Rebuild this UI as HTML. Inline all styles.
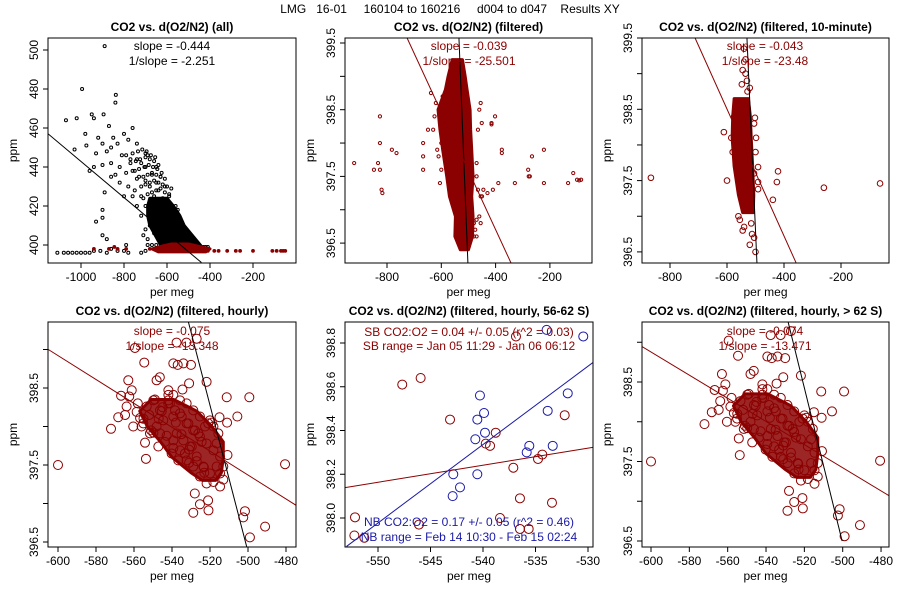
<!DOCTYPE html>
<html><head><meta charset="utf-8">
<style>
html,body{margin:0;padding:0;background:#fff}
svg{display:block;font-family:"Liberation Sans",sans-serif}
</style></head>
<body>
<svg id="chart" width="900" height="600" viewBox="0 0 900 600">
<text x="450" y="13" text-anchor="middle" font-size="12" xml:space="preserve">LMG   16-01     160104 to 160216     d004 to d047    Results XY</text>
</svg>
<script>
// ---------- Panel 1 (all) ----------
const p1BlackX = [-890,-995,-838,-840,-1070,-1020,-950,-895,-940,-980,-870,-760,-850,-800,-920,-975,-900,-860,-830,-780,-740,-1030,-930,-880,-810,-770,-700,-690,-650,-940,-900,-860,-820,-790,-760,-730,-700,-680,-960,-890,-900,-900,-930,-900,-880,-790,-860,-820,-780,-750,-720,-700,-680,-660,-640,-620,-600,-580,-560,-540,-520,-500,-480,-460,-440,-420,-660,-640,-620,-600,-580,-560,-540,-620,-600,-660,-680,-700,-720,-740,-760,-800,-840,-640,-590,-610,-630,-650,-670,-700,-720,-740,-550,-560,-570,-530,-510,-590,-570,-550,-530,-510,-490,-650,-670,-690,-710,-1110,-1080,-1060,-1040,-1020,-1000,-980,-960,-940,-910,-880,-860,-830,-800,-780,-720,-700,-690,-410,-430,
 -710,-690,-670,-650,-630,-610,-590,-720,-700,-680,-660,-640,-620,-600,-580,-740,-710,-690,-670,-650,-630,-610,-750,-730,-705,-685,-665,-645,-625,-770,-745,-725,-700,-680,-660,-640,-790,-760,-735,-715,-695,-675,-655];
const p1BlackY = [502,480,477,473,464,465,467,467,465,457,461,460,455,457,455,451,452,450,452,454,452,449,447,448,446,444,447,446,440,440,441,442,440,437,438,435,433,430,438,427,418,414,412,405,403,400,435,432,430,428,425,420,422,425,428,424,420,416,414,412,408,404,402,400,399,399,415,418,412,410,408,406,403,405,402,406,410,408,415,420,425,425,436,408,425,430,435,432,436,440,442,444,418,420,410,410,405,403,401,400,400,400,399,400,400,403,405,396,396,396,396,396,396,396,396,397,397,396,398,397,397,396,396,397,400,399,399,
 424,426,427,428,429,427,426,430,431,432,433,432,431,430,429,434,435,436,437,436,435,434,438,439,440,441,440,439,437,442,443,444,445,444,443,441,446,447,448,449,448,446,445];
const p1RedX = [-940,-870,-845,-830,-790,-680,-660,-640,-460,-440,-410,-380,-360,-320,-280,-260,-200,-110,-90,-70,-60,-50];
const p1RedY = [398,398,399,398,398,398,398,398,397,397,397,397,397,397,397,397,397,397,397,397,397,397];
const p1BlackCoreY = [398,402,406,410,415,420,424];
const p1BlackCoreMin = [-620,-640,-660,-680,-690,-690,-680];
const p1BlackCoreMax = [-430,-460,-490,-520,-540,-570,-600];
const p1RedCoreY = [396.5,398,399.5,400.5];
const p1RedCoreMin = [-640,-670,-620,-580];
const p1RedCoreMax = [-420,-400,-460,-500];
const p1FitX = [-1153,-440];
const p1FitY = [457,391];

// ---------- Panel 2 (filtered) ----------
const p2X = [-921,-826,-826,-833,-848,-826,-820,-817,-782,-765,-667,-667,-667,-649,-638,-402,-415,-415,-451,-377,-377,-266,-280,-278,-274,-222,-222,-133,-114,-100,-92,-85,-329,-390,-410,-430,-455,-470,-600,-610,-590,-480,-470,-460,-465,
 -625,-630,-620,-615,-460,-455,-465,-470,-450,-445,-600,-605,-595,-475,-470,-480,-455];
const p2Y = [397.7,398.4,398.0,397.7,397.6,397.6,397.3,397.25,397.9,397.85,398.0,397.8,397.6,398.2,398.75,398.4,398.3,398.28,398.3,397.9,397.85,397.8,397.6,397.5,397.5,397.9,397.4,397.4,397.55,397.45,397.44,397.45,397.4,397.4,397.3,397.25,397.2,397.5,398.0,397.8,398.3,396.8,396.6,396.9,397.3,
 398.4,398.2,398.6,397.9,398.5,398.6,398.2,397.7,397.2,397.3,397.6,397.4,398.7,396.7,396.85,396.6,396.8];
const p2CoreY = [396.4,396.6,396.9,397.2,397.5,397.9,398.2,398.5,398.8,399.0,399.25];
const p2CoreMin = [-530,-550,-548,-570,-580,-595,-605,-612,-585,-575,-560];
const p2CoreMax = [-500,-485,-483,-488,-483,-488,-492,-494,-505,-512,-522];
const p2BlackFitX = [-535,-502];
const p2BlackFitY = [399.575,396.2];
const p2RedFitX = [-726,-343];
const p2RedFitY = [399.575,396.2];

// ---------- Panel 3 (filtered, 10-minute) ----------
const p3X = [-867,-611,-600,-491,-491,-491,-439,-425,-421,-260,-63,-502,-505,-515,-505,-500,-510,-505,-540,-535,-545,-530,-548,-535,-528,-520,
 -585,-580,-575,-500,-498,-505,-560,-555,-545,-540,-520,-512];
const p3Y = [397.54,398.18,397.5,397.69,397.48,397.38,397.23,397.48,397.63,397.4,397.46,398.38,398.3,396.9,396.7,396.5,396.3,396.25,399.35,399.2,399.05,398.9,398.85,399.0,398.75,398.8,
 398.1,397.9,398.4,397.9,398.1,397.6,397.0,396.95,396.8,396.85,396.6,396.75];
const p3CoreY = [397.05,397.3,397.7,398.1,398.4,398.65];
const p3CoreMin = [-545,-560,-575,-582,-580,-575];
const p3CoreMax = [-508,-506,-510,-515,-518,-525];
const p3BlackFitX = [-530,-495];
const p3BlackFitY = [399.5,396.35];
const p3RedFitX = [-712,-358];
const p3RedFitY = [399.5,396.35];

// ---------- Panels 4 & 6 (hourly) ----------
const hourlyX = [-600,-572.1,-568.3,-566.8,-563,-559.5,-554.6,-553.7,-548.1,-546.4,-539.3,-537,-534,-530,-537.6,-532.4,-527,-531,-534.5,-521.8,-511.2,-499.3,-505.6,-511,-515,-510.8,-480.5,-501.6,-502.5,-491,-499,-528.8,-525.3,-528,-521,-520.8,-523.2,-531,-539.3,-542.8,-549.8,-554.2,
 -562.5,-561.2,-563.9,-564.7,-558.6,-556.8,-553.3,-549.8,-546.3,-541.9,-541.1,-539.3,-535.8,-532.3,-528.8,-525.3,-521.8,-518.2,-514.7,-516.5,-520,-523.5,-527,-530.5,-534,-537.5,-544.6,-548.1,-551.6,-555.1,-560.4,-539.3,-535.8,-532.3,-528.8,-525.3,-521.8,-518.2,-514.7,-513,-514.7,-513,-516.5,-515.6,-518.2,-520,-525.3,-528.8,-532.3,-535.8,-539.3,-541.9,-546.3,-543.7,-547.2,-540.2,-536.7,-533.2,-529.6,-526.1,-522.6,-520.9,-524.4,-527.9,-531.4,-534.9,-538.4,-541.9,-545.4,
 -558,-555,-552,-549,-545,-542,-538,-535,-531,-527,-523,-519,-556,-551,-547,-544];
const hourlyY = [397.5,397.97,398.12,398.4,398.6,399.02,398.83,397.58,398.6,398.64,398.82,398.8,398.82,398.8,399.09,399.09,399.14,398.56,398.48,398.58,398.38,398.38,398.13,398.05,398.12,397.63,397.51,396.9,396.82,396.7,396.56,396.88,396.99,397.13,397.04,396.91,397.47,397.53,397.72,397.88,397.92,397.79,
 398.39,398.47,398.26,398.15,398.19,398.11,398.26,398.34,398.21,398.41,398.3,398.13,398.17,398.04,397.95,397.87,397.78,397.69,397.61,397.48,397.39,397.48,397.61,397.74,397.82,397.91,398.08,398.0,397.91,398.04,398.0,397.82,397.69,397.56,397.48,397.35,397.26,397.28,397.22,397.31,397.39,397.48,397.78,397.91,398.0,398.08,398.13,398.21,398.3,398.34,398.41,398.34,397.91,397.8,397.74,397.65,397.56,397.65,397.74,397.91,398.0,398.04,397.8,397.95,398.04,398.13,398.21,398.47,
 398.2,398.3,398.1,398.15,398.35,398.25,398.3,398.05,397.9,397.7,397.55,397.4,398.05,398.0,397.95,398.1];
const hourlyCoreY = [397.3,397.4,397.6,397.8,398.0,398.2,398.35];
const hourlyCoreMin = [-524,-530,-540,-546,-553,-557,-551];
const hourlyCoreMax = [-517,-514,-513,-513,-519,-527,-539];
const p4BlackFitX = [-531.4,-500.7];
const p4BlackFitY = [399.36,396.44];
const p4RedFitX = [-605.1,-474.9];
const p4RedFitY = [399.0,396.98];
const p6BlackFitX = [-531.5,-500.3];
const p6BlackFitY = [399.55,396.5];
const p6RedFitX = [-605,-474.5];
const p6RedFitY = [398.95,397.05];

// ---------- Panel 5 (56-62 S) ----------
const p5SBX = [-552.19,-552.25,-551.3,-547.69,-545.94,-543.14,-539.74,-539.33,-538.79,-538.38,-537.11,-536.86,-536.48,-536.48,-535.65,-534.76,-534.35,-533.43,-532.22,-546.1];
const p5SBY = [398.003,397.92,397.91,398.61,398.64,398.45,398.34,398.33,398.39,398.0,398.23,398.83,398.09,397.95,397.95,398.27,398.29,398.07,398.47,397.97];
const p5NBX = [-542.89,-542.83,-542.19,-540.73,-540.54,-540.29,-539.9,-539.81,-540.54,-535.84,-535.59,-533.84,-533.36,-531.93,-533.94,-530.45];
const p5NBY = [398.1,398.2,398.14,398.36,398.45,398.56,398.48,398.39,398.2,398.3,398.33,398.49,398.33,398.57,398.86,398.83];
const p5SBFitX = [-553.14,-529.55];
const p5SBFitY = [398.139,398.323];
const p5NBFitX = [-553.0,-529.55];
const p5NBFitY = [397.87,398.71];

const DR = '#8b0000', NB = '#1a1aa8';
const NS = 'http://www.w3.org/2000/svg';
const svg = document.getElementById('chart');

function mk(tag, attrs, parent){
  const e = document.createElementNS(NS, tag);
  for (const k in attrs) e.setAttribute(k, attrs[k]);
  (parent||svg).appendChild(e);
  return e;
}

function panel(c){
  const g = mk('g', {});
  
  
  const sx = v => c.px0 + (v - c.xv0) * c.kx;
  const sy = v => c.py0 - (v - c.yv0) * c.ky;
  c.sx = sx; c.sy = sy;
  const clipId = c.name + '-clip';
  const cp = mk('clipPath', {id: clipId}, g);
  mk('rect', {x:c.L, y:c.T, width:c.R-c.L, height:c.B-c.T}, cp);
  const plot = mk('g', {'clip-path':'url(#'+clipId+')'}, g);
  
  
  c.plot = plot;
  const t = mk('text', {x:(c.L+c.R)/2, y:c.T-7, 'text-anchor':'middle', 'font-size':12, 'font-weight':'bold'}, g);
  t.textContent = c.title;
  
  
  c.xticks.forEach(v => {
    const x = sx(v);
    const tk = mk('line', {x1:x, x2:x, y1:c.B, y2:c.B+5, stroke:'#000'}, g);
    
    
    const lb = mk('text', {x:x, y:c.B+18, 'text-anchor':'middle', 'font-size':12}, g);
    lb.textContent = String(v);
    
    
  });
  c.yticks.forEach(v => {
    const y = sy(v);
    const tk = mk('line', {x1:c.L-5, x2:c.L, y1:y, y2:y, stroke:'#000'}, g);
    
    
  });
  c.ylabels.forEach(v => {
    const y = sy(v);
    const lb = mk('text', {x:c.L-10, y:y, 'text-anchor':'middle', 'font-size':12, transform:'rotate(-90 '+(c.L-10)+' '+y+')'}, g);
    lb.textContent = v.toFixed(c.ydec);
    
    
  });
  const xl = mk('text', {x:(c.L+c.R)/2, y:c.B+33, 'text-anchor':'middle', 'font-size':12}, g);
  xl.textContent = 'per meg';
  
  
  const yx = c.L-31, yy = (c.T+c.B)/2;
  const yl = mk('text', {x:yx, y:yy, 'text-anchor':'middle', 'font-size':12, transform:'rotate(-90 '+yx+' '+yy+')'}, g);
  yl.textContent = 'ppm';
  
  
  c.g = g;
  return c;
}
function frame(c){
  const r = mk('rect', {x:c.L, y:c.T, width:c.R-c.L, height:c.B-c.T, fill:'none', stroke:'#000', 'stroke-width':1}, c.g);
  
  
}
function core(c, ys, mins, maxs, color, op, nm){
  let d = '';
  ys.forEach((y,i) => { d += (i? 'L':'M') + c.sx(mins[i]) + ' ' + c.sy(y) + ' '; });
  for (let i = ys.length-1; i >= 0; i--) d += 'L' + c.sx(maxs[i]) + ' ' + c.sy(ys[i]) + ' ';
  const p = mk('path', {d:d+'Z', fill:color, 'fill-opacity':op, stroke:color, 'stroke-width':3, 'stroke-linejoin':'round'}, c.plot);
  
  
}
function pts(c, xs, ys, r, color, fill, sw, nm){
  xs.forEach((x,i) => {
    const e = mk('circle', {cx:c.sx(x), cy:c.sy(ys[i]), r:r, fill:fill, stroke:color, 'stroke-width':sw}, c.plot);
    
    
  });
}
function fit(c, xs, ys, color, nm){
  const l = mk('line', {x1:c.sx(xs[0]), y1:c.sy(ys[0]), x2:c.sx(xs[1]), y2:c.sy(ys[1]), stroke:color, 'stroke-width':1}, c.plot);
  
  
}
function note(c, x, y, txt, color, nm){
  const t = mk('text', {x:x, y:y, 'text-anchor':'middle', 'font-size':12, fill:color}, c.g);
  t.textContent = txt;
  
  
}
function range(a,b,s){ const o=[]; for(let v=a; v<=b+1e-9; v+=s) o.push(Math.round(v*100)/100); return o; }

// Panel 1
let c1 = panel({name:'panel-all', title:'CO2 vs. d(O2/N2) (all)', L:48,R:296,T:38,B:263,
  px0:81, xv0:-1000, kx:0.215, py0:245, yv0:400, ky:1.95,
  xticks:[-1000,-800,-600,-400,-200], yticks:[400,420,440,460,480,500], ylabels:[400,420,440,460,480,500], ydec:0});
core(c1, p1BlackCoreY, p1BlackCoreMin, p1BlackCoreMax, '#000', 1, 'black-point-cloud');
pts(c1, p1BlackX, p1BlackY, 1.5, '#000', 'none', 1, 'black-point');
core(c1, p1RedCoreY, p1RedCoreMin, p1RedCoreMax, DR, 1, 'filtered-point-cloud');
pts(c1, p1RedX, p1RedY, 1.5, DR, DR, 0.8, 'filtered-point');
fit(c1, p1FitX, p1FitY, '#000', 'fit-line');
frame(c1);
note(c1, 172, 50, 'slope = -0.444', '#000', 'slope-text');
note(c1, 172, 65, '1/slope = -2.251', '#000', 'inverse-slope-text');

// Panel 2
let c2 = panel({name:'panel-filtered', title:'CO2 vs. d(O2/N2) (filtered)', L:345,R:592,T:38,B:263,
  px0:387, xv0:-800, kx:0.2715, py0:43, yv0:399.5, ky:66.7,
  xticks:[-800,-600,-400,-200], yticks:range(396.5,399.5,0.5), ylabels:[396.5,397.5,398.5,399.5], ydec:1});
core(c2, p2CoreY, p2CoreMin, p2CoreMax, DR, 1, 'filtered-point-cloud');
pts(c2, p2X, p2Y, 1.6, DR, 'none', 1, 'filtered-point');
fit(c2, p2BlackFitX, p2BlackFitY, '#000', 'black-fit-line');
fit(c2, p2RedFitX, p2RedFitY, DR, 'red-fit-line');
frame(c2);
note(c2, 469, 50, 'slope = -0.039', DR, 'slope-text');
note(c2, 469, 65, '1/slope = -25.501', DR, 'inverse-slope-text');

// Panel 3
let c3 = panel({name:'panel-10-minute', title:'CO2 vs. d(O2/N2) (filtered, 10-minute)', L:642,R:889,T:38,B:263,
  px0:670, xv0:-800, kx:0.285, py0:38, yv0:399.5, ky:71.3,
  xticks:[-800,-600,-400,-200], yticks:range(396.5,399.5,0.5), ylabels:[396.5,397.5,398.5,399.5], ydec:1});
core(c3, p3CoreY, p3CoreMin, p3CoreMax, DR, 1, 'filtered-point-cloud');
pts(c3, p3X, p3Y, 2.8, DR, 'none', 1, 'ten-minute-point');
fit(c3, p3BlackFitX, p3BlackFitY, '#000', 'black-fit-line');
fit(c3, p3RedFitX, p3RedFitY, DR, 'red-fit-line');
frame(c3);
note(c3, 765, 50, 'slope = -0.043', DR, 'slope-text');
note(c3, 765, 65, '1/slope = -23.48', DR, 'inverse-slope-text');

// Panel 4
let c4 = panel({name:'panel-hourly', title:'CO2 vs. d(O2/N2) (filtered, hourly)', L:48,R:296,T:322,B:547,
  px0:58, xv0:-600, kx:1.9, py0:388, yv0:398.5, ky:77,
  xticks:range(-600,-480,20), yticks:range(396.5,399,0.5), ylabels:[396.5,397.5,398.5], ydec:1});
core(c4, hourlyCoreY, hourlyCoreMin, hourlyCoreMax, DR, 0.85, 'hourly-point-cloud');
pts(c4, hourlyX, hourlyY, 4.5, DR, 'none', 1, 'hourly-point');
fit(c4, p4BlackFitX, p4BlackFitY, '#000', 'black-fit-line');
fit(c4, p4RedFitX, p4RedFitY, DR, 'red-fit-line');
frame(c4);
note(c4, 172, 335, 'slope = -0.075', DR, 'slope-text');
note(c4, 172, 350, '1/slope = -13.348', DR, 'inverse-slope-text');

// Panel 5
let c5 = panel({name:'panel-56-62s', title:'CO2 vs. d(O2/N2) (filtered, hourly, 56-62 S)', L:345,R:593,T:322,B:547,
  px0:378, xv0:-550, kx:10.5, py0:518, yv0:398.0, ky:218.75,
  xticks:[-550,-545,-540,-535,-530], yticks:range(398.0,398.8,0.2), ylabels:range(398.0,398.8,0.2), ydec:1});
pts(c5, p5SBX, p5SBY, 4.5, DR, 'none', 1, 'sb-point');
pts(c5, p5NBX, p5NBY, 4.5, NB, 'none', 1, 'nb-point');
fit(c5, p5SBFitX, p5SBFitY, DR, 'sb-fit-line');
fit(c5, p5NBFitX, p5NBFitY, NB, 'nb-fit-line');
frame(c5);
note(c5, 469, 336, 'SB CO2:O2 = 0.04 +/- 0.05 (r^2 = 0.03)', DR, 'sb-ratio-text');
note(c5, 469, 350, 'SB range = Jan 05 11:29 - Jan 06 06:12', DR, 'sb-range-text');
note(c5, 469, 526, 'NB CO2:O2 = 0.17 +/- 0.05 (r^2 = 0.46)', NB, 'nb-ratio-text');
note(c5, 469, 541, 'NB range = Feb 14 10:30 - Feb 15 02:24', NB, 'nb-range-text');

// Panel 6
let c6 = panel({name:'panel-south-62s', title:'CO2 vs. d(O2/N2) (filtered, hourly, > 62 S)', L:642,R:889,T:322,B:547,
  px0:651, xv0:-600, kx:1.917, py0:382, yv0:398.5, ky:79.5,
  xticks:range(-600,-480,20), yticks:range(396.5,399,0.5), ylabels:[396.5,397.5,398.5], ydec:1});
core(c6, hourlyCoreY, hourlyCoreMin, hourlyCoreMax, DR, 0.85, 'hourly-point-cloud');
pts(c6, hourlyX, hourlyY, 4.5, DR, 'none', 1, 'hourly-point');
fit(c6, p6BlackFitX, p6BlackFitY, '#000', 'black-fit-line');
fit(c6, p6RedFitX, p6RedFitY, DR, 'red-fit-line');
frame(c6);
note(c6, 765, 335, 'slope = -0.074', DR, 'slope-text');
note(c6, 765, 350, '1/slope = -13.471', DR, 'inverse-slope-text');
</script>
</body></html>
